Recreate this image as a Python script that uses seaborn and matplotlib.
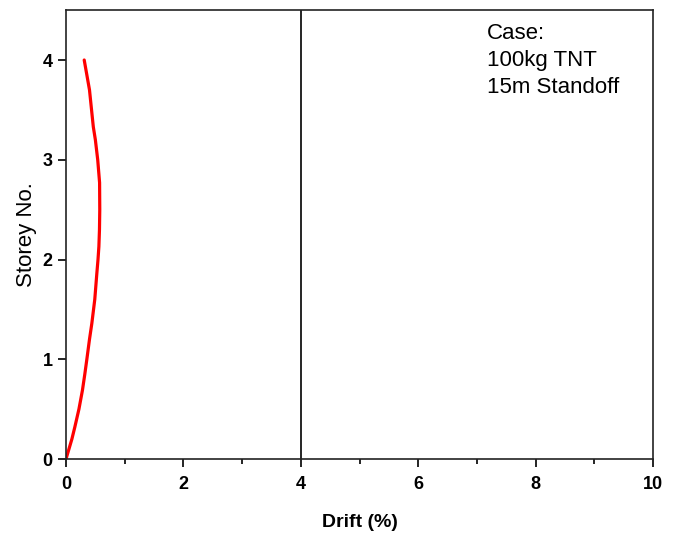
import matplotlib
matplotlib.use("Agg")
import matplotlib.pyplot as plt
import seaborn as sns
import pandas as pd
from matplotlib.ticker import MultipleLocator

storey = [0.0, 0.1, 0.2, 0.32, 0.5, 0.69, 0.85, 1.0, 1.2, 1.36, 1.6, 1.86, 2.0, 2.13,
          2.3, 2.5, 2.77, 3.0, 3.2, 3.33, 3.5, 3.7, 3.85, 4.0]
drift = [0.0, 0.05, 0.1, 0.15, 0.22, 0.28, 0.32, 0.355, 0.40, 0.44, 0.49, 0.525, 0.545, 0.56,
         0.57, 0.575, 0.572, 0.54, 0.50, 0.465, 0.435, 0.40, 0.355, 0.31]
limit_x = 4
case_text = ["Case:", "100kg TNT", "15m Standoff"]

sns.set_style("ticks")
plt.rcParams['font.family'] = ['Liberation Sans', 'DejaVu Sans']
plt.rcParams['text.color'] = 'black'
plt.rcParams['axes.labelcolor'] = 'black'

fig = plt.figure(figsize=(6.75, 5.33), dpi=100)
ax = fig.add_axes([0.0978, 0.1388, 0.9674 - 0.0978, 0.981 - 0.1388])

df = pd.DataFrame({"Drift": drift, "Storey": storey})
sns.lineplot(data=df, x="Drift", y="Storey", sort=False, estimator=None,
             color="#ff0000", linewidth=2.3, ax=ax)
ax.axvline(limit_x, color="black", linewidth=1.2)

ax.set_xlim(0, 10)
ax.set_ylim(0, 4.5)
ax.xaxis.set_major_locator(MultipleLocator(2))
ax.xaxis.set_minor_locator(MultipleLocator(1))
ax.yaxis.set_major_locator(MultipleLocator(1))
ax.tick_params(axis="both", which="major", direction="out", length=6, width=1.2,
               labelsize=13, colors="black")
ax.tick_params(axis="x", which="major", pad=6)
ax.tick_params(axis="x", which="minor", direction="out", length=3.5, width=1.2, colors="black")
for lab in ax.get_xticklabels() + ax.get_yticklabels():
    lab.set_fontweight("bold")

for s in ax.spines.values():
    s.set_visible(True)
    s.set_linewidth(1.2)
    s.set_color("#222222")

ax.set_xlabel("Drift (%)", fontsize=14, fontweight="bold", labelpad=15)
ax.set_ylabel("Storey No.", fontsize=16, labelpad=4)

ax.text(7.17, 4.37, "\n".join(case_text), fontsize=16, va="top", ha="left", linespacing=1.38)

fig.savefig("out.png", dpi=100)
